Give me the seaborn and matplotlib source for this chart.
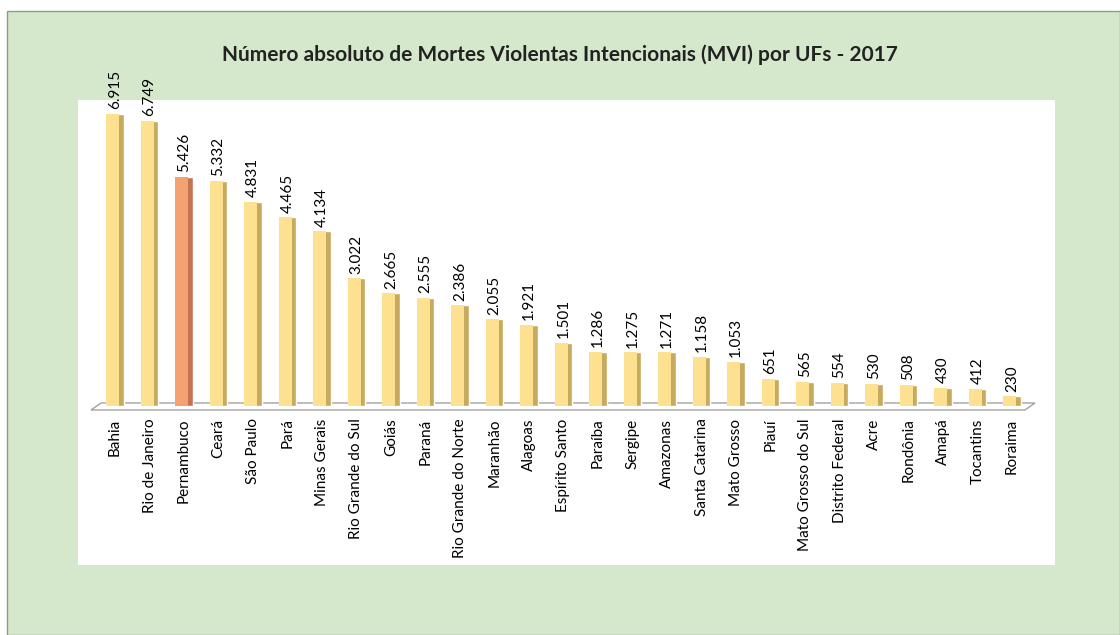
import numpy as np
import pandas as pd
import seaborn as sns
import matplotlib.pyplot as plt
from matplotlib.patches import Rectangle, Polygon

ufs = ['Bahia', 'Rio de Janeiro', 'Pernambuco', 'Ceará', 'São Paulo', 'Pará',
       'Minas Gerais', 'Rio Grande do Sul', 'Goiás', 'Paraná',
       'Rio Grande do Norte', 'Maranhão', 'Alagoas', 'Espírito Santo',
       'Paraíba', 'Sergipe', 'Amazonas', 'Santa Catarina', 'Mato Grosso',
       'Piauí', 'Mato Grosso do Sul', 'Distrito Federal', 'Acre', 'Rondônia',
       'Amapá', 'Tocantins', 'Roraima']
mvi = [6915, 6749, 5426, 5332, 4831, 4465, 4134, 3022, 2665, 2555, 2386,
       2055, 1921, 1501, 1286, 1275, 1271, 1158, 1053, 651, 565, 554, 530,
       508, 430, 412, 230]
destaque = 'Pernambuco'

sns.set_theme(style='white')
plt.rcParams['font.family'] = ['Lato', 'DejaVu Sans']

df = pd.DataFrame({'uf': ufs, 'mvi': mvi})
face = ['#f5a273' if u == destaque else '#fde090' for u in ufs]
side = ['#c57450' if u == destaque else '#c8aa5e' for u in ufs]

fig = plt.figure(figsize=(11.2, 6.35), dpi=100, facecolor='white')
W, H = 1120, 635


def px(x, y):
    return (x / W, 1 - y / H)


# outer green frame and white plot area, behind the axes
fig.patches.append(Rectangle((7 / W, 0), 1 - 7 / W, 1 - 11 / H, transform=fig.transFigure,
                             facecolor='#d5e8cc', edgecolor='#8f9a8a', lw=1.0, zorder=-3))
fig.patches.append(Rectangle(px(78, 565), (1055 - 78) / W, (565 - 100) / H,
                             transform=fig.transFigure, facecolor='white',
                             edgecolor='none', zorder=-2))
# the 3d floor under the columns
fig.patches.append(Polygon([px(91, 410), px(101, 403), px(1035, 403), px(1025, 410)],
                           closed=True, transform=fig.transFigure, facecolor='white',
                           edgecolor='#a3a3a3', lw=1.0, zorder=-1))

ax = fig.add_axes([97.75 / W, 1 - 406 / H, 931.5 / W, 306 / H])
ax.patch.set_alpha(0)

# darker side of each column, then the lit face on top
sns.barplot(data=df, x='uf', y='mvi', hue='uf', palette=side, legend=False,
            width=0.5, saturation=1, ax=ax, zorder=2)
ax.bar(np.arange(len(ufs)) - 0.06, mvi, width=0.38, color=face, zorder=3, lw=0)

ax.set_xlim(-0.5, len(ufs) - 0.5)
ax.set_ylim(0, 7245)

for i, v in enumerate(mvi):
    txt = f'{v:,}'.replace(',', '.')
    ax.text(i, v + 110, txt, rotation=90, ha='center', va='bottom',
            fontsize=11, color='black', clip_on=False)

ax.set_xticks(range(len(ufs)))
ax.set_xticklabels(ufs, rotation=90, fontsize=11, color='black')
ax.tick_params(axis='x', length=0, pad=9)
ax.set_yticks([])
ax.set_xlabel('')
ax.set_ylabel('')
for s in ax.spines.values():
    s.set_visible(False)

fig.text(0.5, 1 - 55 / H,
         'Número absoluto de Mortes Violentas Intencionais (MVI) por UFs - 2017',
         ha='center', va='center', fontsize=15, fontweight='bold', color='#222222')

fig.savefig('out.png', dpi=100, facecolor='white')
